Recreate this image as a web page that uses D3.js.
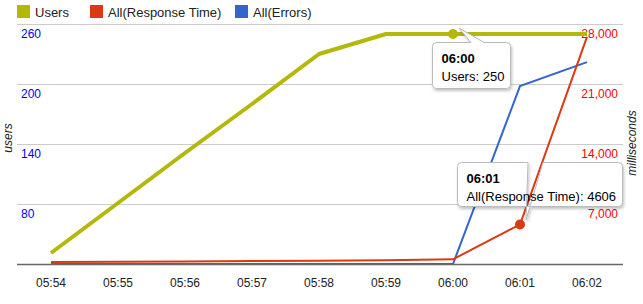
<!DOCTYPE html>
<html><head><meta charset="utf-8">
<script src="https://cdn.jsdelivr.net/npm/d3@7/dist/d3.min.js"></script>
<style>body{margin:0;background:#fff;}svg{display:block;font-family:Arial,"Liberation Sans",sans-serif;}</style>
</head><body><svg id="c" width="643" height="304"></svg>
<script>
const times = ["05:54","05:55","05:56","05:57","05:58","05:59","06:00","06:01","06:02"];
const users = [31, 81, 131, 180, 230, 250, 250, 250, 250];
const responseTime = [230, 260, 300, 340, 380, 450, 550, 4606, 26500];
const errors = [0, 0, 0, 0, 0, 0, 0, 20750, 23550];
const leftTicks = [80, 140, 200, 260];
const rightTicks = [7000, 14000, 21000, 28000];
const seriesNames = ["Users", "All(Response Time)", "All(Errors)"];
const colors = ["#b4b80a", "#dc3912", "#3366cc"];

const svg = d3.select("#c");
const plotL = 17, plotR = 623, plotT = 24, plotB = 264;
const x = d3.scalePoint().domain(times).range([51, 587]);
const yL = d3.scaleLinear().domain([20, 260]).range([plotB, plotT]);
const yR = d3.scaleLinear().domain([0, 28000]).range([plotB, plotT]);

// gridlines
svg.append("g").selectAll("line").data(leftTicks).join("line")
  .attr("x1", plotL).attr("x2", plotR)
  .attr("y1", d => Math.round(yL(d)) + 0.5).attr("y2", d => Math.round(yL(d)) + 0.5)
  .attr("stroke", "#cccccc").attr("stroke-width", 1);

// left tick labels
svg.append("g").selectAll("text").data(leftTicks).join("text")
  .attr("x", 21).attr("y", d => yL(d) + 14)
  .attr("fill", "#0000ff").attr("font-size", 12).text(d => d);
// right tick labels
svg.append("g").selectAll("text").data(rightTicks).join("text")
  .attr("x", 618).attr("y", d => yR(d) + 14).attr("text-anchor", "end")
  .attr("fill", "#ff0000").attr("font-size", 12).text(d => d3.format(",")(d));

// axis titles
svg.append("text").attr("transform", "translate(12,138) rotate(-90)")
  .attr("text-anchor", "middle").attr("font-size", 12).attr("font-style", "italic")
  .attr("fill", "#222").text("users");
svg.append("text").attr("transform", "translate(636,143) rotate(-90)")
  .attr("text-anchor", "middle").attr("font-size", 12).attr("font-style", "italic")
  .attr("fill", "#222").text("milliseconds");

// x labels
svg.append("g").selectAll("text").data(times).join("text")
  .attr("x", d => x(d)).attr("y", 287).attr("text-anchor", "middle")
  .attr("font-size", 12).attr("fill", "#222").text(d => d);

// lines
const lineR = d3.line().x((d, i) => x(times[i])).y(d => yR(d));
const lineL = d3.line().x((d, i) => x(times[i])).y(d => yL(d));
svg.append("path").datum(errors).attr("d", lineR).attr("fill", "none")
  .attr("stroke", colors[2]).attr("stroke-width", 2);
svg.append("path").datum(responseTime).attr("d", lineR).attr("fill", "none")
  .attr("stroke", colors[1]).attr("stroke-width", 2);
svg.append("path").datum(users).attr("d", lineL).attr("fill", "none")
  .attr("stroke", colors[0]).attr("stroke-width", 4).attr("stroke-linejoin", "round");

// baseline
svg.append("line").attr("x1", plotL).attr("x2", plotR).attr("y1", plotB + 0.5).attr("y2", plotB + 0.5)
  .attr("stroke", "#666").attr("stroke-width", 1.5);

// legend
const legendX = [17, 90, 235];
const lg = svg.append("g").selectAll("g").data(seriesNames).join("g")
  .attr("transform", (d, i) => `translate(${legendX[i]},0)`);
lg.append("rect").attr("x", 0).attr("y", 5).attr("width", 13).attr("height", 13)
  .attr("fill", (d, i) => colors[i]);
lg.append("text").attr("x", 18).attr("y", 17).attr("font-size", 13).attr("fill", "#222").text(d => d);

// tooltips
const defs = svg.append("defs");
const f = defs.append("filter").attr("id", "sh").attr("x", "-20%").attr("y", "-20%").attr("width", "140%").attr("height", "150%");
f.append("feDropShadow").attr("dx", 1).attr("dy", 2).attr("stdDeviation", 1.5).attr("flood-color", "#000").attr("flood-opacity", 0.25);

function tooltip(px, py, bx, by, bw, bh, tipX, tipY, baseL, baseR, title, body) {
  const g = svg.append("g");
  const path = `M${bx + 4},${by} L${baseL},${by} L${tipX},${tipY} L${baseR},${by} L${bx + bw - 4},${by} Q${bx + bw},${by} ${bx + bw},${by + 4} L${bx + bw},${by + bh - 4} Q${bx + bw},${by + bh} ${bx + bw - 4},${by + bh} L${bx + 4},${by + bh} Q${bx},${by + bh} ${bx},${by + bh - 4} L${bx},${by + 4} Q${bx},${by} ${bx + 4},${by} Z`;
  g.append("path").attr("d", path).attr("fill", "#fff").attr("stroke", "#bbbbbb").attr("stroke-width", 1).attr("filter", "url(#sh)");
  g.append("text").attr("x", bx + 9).attr("y", by + 20).attr("font-size", 13).attr("font-weight", "bold").attr("fill", "#000").text(title);
  g.append("text").attr("x", bx + 9).attr("y", by + 38).attr("font-size", 13).attr("fill", "#000").text(body);
}

// markers
svg.append("circle").attr("cx", x("06:00")).attr("cy", yL(users[6])).attr("r", 5).attr("fill", colors[0]);
svg.append("circle").attr("cx", x("06:01")).attr("cy", yR(responseTime[7])).attr("r", 5).attr("fill", colors[1]);

tooltip(x("06:00"), yL(users[6]), 432.5, 42.5, 78, 46, 459, 28, 471, 484, "06:00", "Users: " + users[6]);
tooltip(x("06:01"), yR(responseTime[7]), 457.5, 162.5, 165, 44, 526, 220, 528, 543, "06:01", "All(Response Time): " + responseTime[7]);
</script></body></html>
